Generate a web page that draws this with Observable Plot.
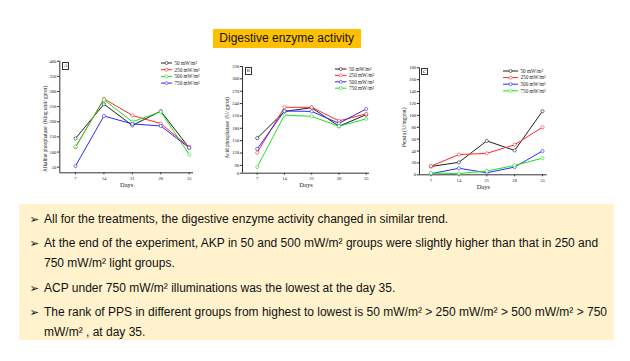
<!DOCTYPE html>
<html>
<head>
<meta charset="utf-8">
<script src="https://cdn.jsdelivr.net/npm/d3@7"></script>
<script src="https://cdn.jsdelivr.net/npm/@observablehq/plot@0.6"></script>
<style>
  html, body { margin: 0; padding: 0; background: #fff; }
  #page { position: relative; width: 630px; height: 361px; overflow: hidden; background: #fff; }
  .abs { position: absolute; }
  #title { left: 212.7px; top: 29.3px; width: 148px; height: 18.4px; background: #FFC000;
    font: 12px "Liberation Sans", Arial, sans-serif; color: #111; text-align: center; line-height: 18.4px; }
  #notes { left: 19px; top: 204px; width: 595px; height: 136px; background: #FFF2CC;
    font: 12px "Liberation Sans", Arial, sans-serif; color: #111; box-sizing: border-box; padding-top: 4.5px; }
  .item { position: relative; padding-left: 25px; line-height: 20px; margin-bottom: 4.5px; white-space: nowrap; }
  .item .b { position: absolute; left: 10.5px; top: 0; font: 11.5px "DejaVu Sans", sans-serif; line-height: 20px; }
  .panel { font: 5px "Liberation Serif", serif; border: 0.6px solid #333; width: 5px; height: 5.5px;
    line-height: 5.5px; text-align: center; color: #222; background: #fff; }
  svg.legend text { font-family: "Liberation Serif", serif; }
</style>
</head>
<body>
<div id="page">
  <div id="title" class="abs">Digestive enzyme activity</div>
  <div id="notes" class="abs"></div>
</div>
<script>
// ---------- data ----------
const days = [7, 14, 21, 28, 35];
const groupNames = ["50 mW/m²", "250 mW/m²", "500 mW/m²", "750 mW/m²"];

// A: Alkaline phosphatase (King unit/ gprot)
const akp50  = [145, 258, 188, 235, 114];
const akp250 = [116, 276, 221, 194, 117];
const akp500 = [118, 273, 200, 233, 92];
const akp750 = [54, 219, 193, 186, 114];
const akpTicks = [50, 100, 150, 200, 250, 300, 350, 400];
const akpTickLabels = ["50", "100", "150", "200", "250", "300", "350", "400"];

// B: Acid phosphatase (U/ gprot)
const acp50  = [156, 221, 230, 185, 213];
const acp250 = [121, 231, 231, 198, 215];
const acp500 = [130, 222, 221, 192, 227];
const acp750 = [86, 212, 209, 185, 203];
const acpTicks = [71, 90, 120, 150, 180, 210, 240, 270, 300, 330];
const acpTickLabels = ["0", "90", "120", "150", "180", "210", "240", "270", "300", "330"];

// C: Pepsin (U/mgprot)
const pps50  = [14, 21, 57, 41, 107];
const pps250 = [14.6, 34, 36, 50.5, 80];
const pps500 = [1.7, 11, 3.4, 13, 40];
const pps750 = [2.8, 2.2, 6.2, 15.7, 28];
const ppsTicks = [0, 20, 40, 60, 80, 100, 120, 140, 160, 180];
const ppsTickLabels = ["0", "20", "40", "60", "80", "100", "120", "140", "160", "180"];

const cBlack = "#222222", cRed = "#ff2a2a", cGreen = "#1fe01f", cBlue = "#2a2aff";

const notes = [
  "All for the treatments, the digestive enzyme activity changed in similar trend.",
  "At the end of the experiment, AKP in 50 and 500 mW/m² groups were slightly higher than that in 250 and<br>750 mW/m² light groups.",
  "ACP under 750 mW/m² illuminations was the lowest at the day 35.",
  "The rank of PPS in different groups from highest to lowest is 50 mW/m² &gt; 250 mW/m² &gt; 500 mW/m² &gt; 750<br>mW/m² , at day 35."
];

// ---------- build ----------
const page = document.getElementById("page");
const notesEl = document.getElementById("notes");
for (const n of notes) {
  const d = document.createElement("div");
  d.className = "item";
  d.innerHTML = `<span class="b">➢</span>${n}`;
  notesEl.appendChild(d);
}

function tidy(seriesValues, names) {
  const rows = [];
  seriesValues.forEach((vals, s) => vals.forEach((v, i) => rows.push({day: days[i], value: v, group: names[s], k: s})));
  return rows;
}

function chart(cfg) {
  const rows = tidy(cfg.series, groupNames);
  const labelMap = new Map(cfg.yTicks.map((t, i) => [t, cfg.yTickLabels[i]]));
  const p = Plot.plot({
    width: cfg.width, height: cfg.height,
    marginLeft: cfg.ml, marginRight: cfg.mr, marginTop: cfg.mt, marginBottom: cfg.mb,
    style: {fontFamily: "Liberation Serif, serif", fontSize: "4.6px", background: "transparent", overflow: "visible", color: "#222"},
    x: {domain: cfg.xDomain},
    y: {domain: cfg.yDomain},
    color: {domain: groupNames, range: cfg.colors},
    marks: [
      Plot.axisX({ticks: days, tickSize: 2, tickPadding: 1.5, label: null, stroke: "#333"}),
      Plot.axisY({ticks: cfg.yTicks, tickSize: 2.2, tickPadding: 1.2, tickFormat: d => labelMap.get(d), label: null, stroke: "#333"}),
      Plot.ruleX([cfg.xDomain[0]], {stroke: "#333", strokeWidth: 1}),
      Plot.ruleY([cfg.yDomain[0]], {stroke: "#333", strokeWidth: 1}),
      Plot.text(["Days"], {frameAnchor: "bottom", textAnchor: "middle", dy: 14, fontSize: 6.5}),
      Plot.text([cfg.ylabel], {frameAnchor: "left", textAnchor: "middle", rotate: -90, dx: -cfg.ylabOff, dy: cfg.ylabDy, fontSize: 5.3}),
      Plot.line(rows, {x: "day", y: "value", z: "group", stroke: "group", strokeWidth: 1}),
      Plot.dot(rows, {x: "day", y: "value", stroke: "group", fill: "white", r: 1.6, strokeWidth: 0.6})
    ]
  });
  p.style.position = "absolute";
  p.style.left = cfg.left + "px";
  p.style.top = cfg.top + "px";
  page.appendChild(p);

  // panel letter box
  const pb = document.createElement("div");
  pb.className = "panel abs";
  pb.textContent = cfg.panel;
  pb.style.left = cfg.panelPos[0] + "px";
  pb.style.top = cfg.panelPos[1] + "px";
  page.appendChild(pb);

  // legend
  const lg = d3.select(page).append("svg").attr("class", "legend abs")
    .attr("width", 50).attr("height", 30)
    .style("left", cfg.legend[0] + "px").style("top", cfg.legend[1] + "px");
  groupNames.forEach((n, i) => {
    const y = 3 + i * cfg.legend[2];
    lg.append("line").attr("x1", 0).attr("x2", cfg.legend[3]).attr("y1", y).attr("y2", y)
      .attr("stroke", cfg.colors[i]).attr("stroke-width", 1);
    lg.append("circle").attr("cx", cfg.legend[3] / 2).attr("cy", y).attr("r", 1.5)
      .attr("fill", "white").attr("stroke", cfg.colors[i]).attr("stroke-width", 0.6);
    lg.append("text").attr("x", cfg.legend[3] + 2.5).attr("y", y).attr("dy", "0.35em")
      .attr("font-size", 5.2).attr("fill", "#222").text(n);
  });
}

chart({
  left: 0, top: 50, width: 210, height: 145,
  ml: 59.3, mr: 17, mt: 10.7, mb: 22.7,
  xDomain: [3.13, 36.06], yDomain: [31.5, 400],
  yTicks: akpTicks, yTickLabels: akpTickLabels,
  series: [akp50, akp250, akp500, akp750],
  colors: [cBlack, cRed, cGreen, cBlue],
  ylabel: "Alkaline phosphatase  (King unit/ gprot)", ylabOff: 14.5, ylabDy: 12,
  panel: "A", panelPos: [62.3, 62],
  legend: [161, 59.5, 6.7, 11]
});

chart({
  left: 210, top: 50, width: 200, height: 145,
  ml: 32, mr: 41, mt: 16, mb: 22.3,
  xDomain: [3.22, 35.85], yDomain: [71, 330],
  yTicks: acpTicks, yTickLabels: acpTickLabels,
  series: [acp50, acp250, acp500, acp750],
  colors: [cBlack, cRed, cBlue, cGreen],
  ylabel: "Acid phosphatase  (U/ gprot)", ylabOff: 15, ylabDy: 8,
  panel: "B", panelPos: [244.8, 67],
  legend: [335, 66, 6.4, 11.5]
});

chart({
  left: 390, top: 50, width: 200, height: 145,
  ml: 29, mr: 43.3, mt: 17.3, mb: 20.7,
  xDomain: [4.11, 36.18], yDomain: [0, 180],
  yTicks: ppsTicks, yTickLabels: ppsTickLabels,
  series: [pps50, pps250, pps500, pps750],
  colors: [cBlack, cRed, cBlue, cGreen],
  ylabel: "Pepsin (U/mgprot)", ylabOff: 15, ylabDy: 6,
  panel: "C", panelPos: [421, 67.5],
  legend: [503, 67.5, 6.6, 15]
});
</script>
</body>
</html>
